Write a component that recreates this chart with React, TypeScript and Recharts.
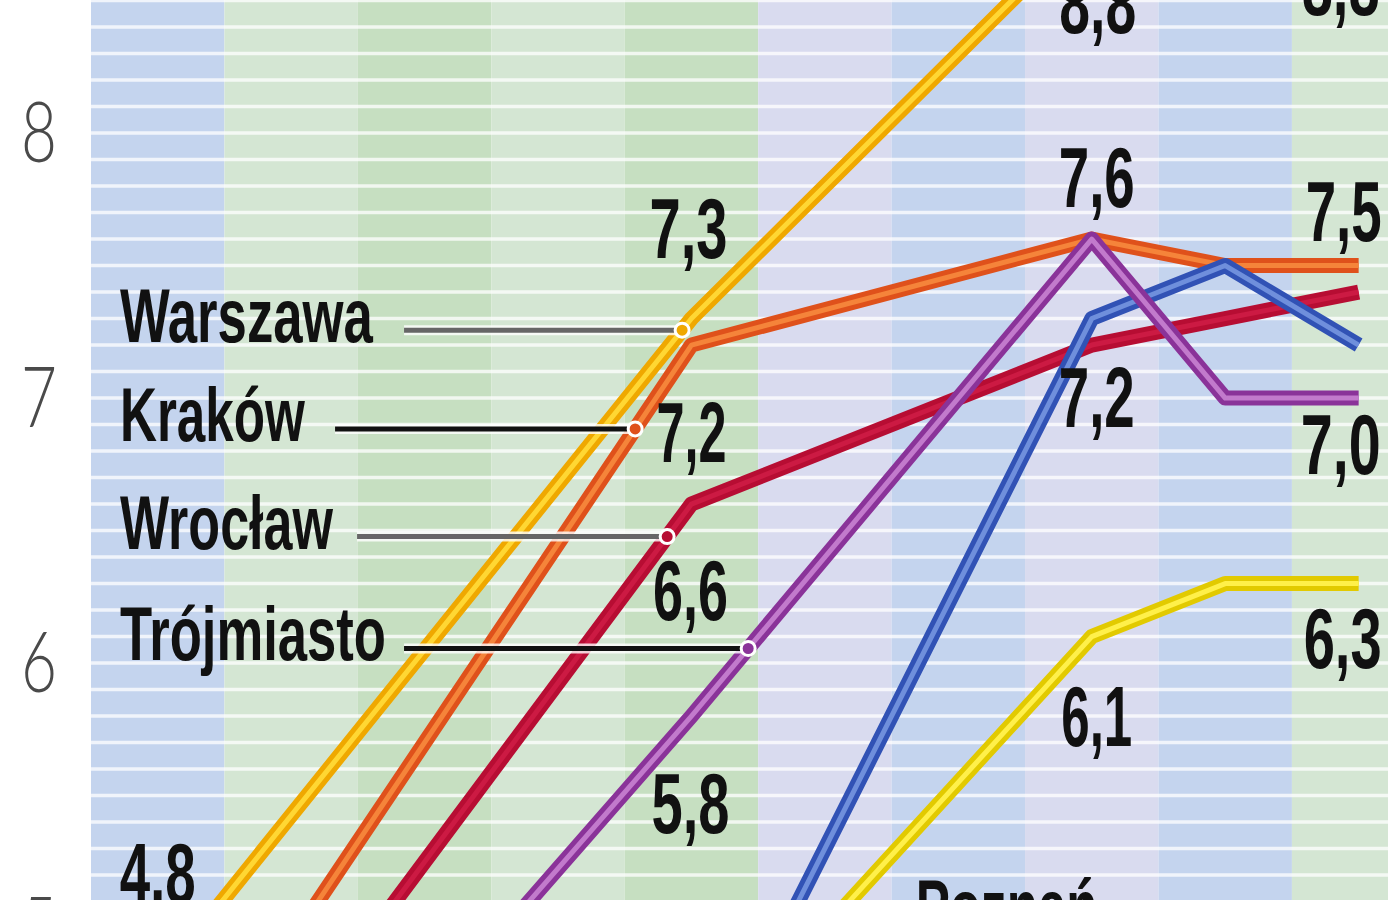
import React from 'react';
import {
  LineChart,
  Line,
  XAxis,
  YAxis,
  ReferenceArea,
  ReferenceLine,
  ReferenceDot,
} from 'recharts';

// One shaded band per period along the horizontal axis
const periods = [0, 1, 2, 3, 4, 5, 6, 7, 8, 9];

// Values per period; null where a line runs straight on to its next point
const warszawa = [4.8, null, null, null, 7.3, null, null, 8.8, null, 8.8];
const krakow = [4.2, null, null, null, 7.2, null, null, 7.6, 7.5, 7.5];
const wroclaw = [3.9, null, null, null, 6.6, null, null, 7.2, 7.3, 7.4];
const trojmiasto = [3.5, null, null, null, 5.8, null, null, 7.6, 7.0, 7.0];
const poznan = [null, null, null, null, 4.3, null, null, 7.3, 7.5, 7.2];
const lodz = [null, null, null, null, null, 5.0, null, 6.1, 6.3, 6.3];

const yTicks = [5, 6, 7, 8];

const Y_DOMAIN: [number, number] = [5.106, 8.502];
const X_DOMAIN: [number, number] = [-0.5, 9.22];

const bandColors = [
  '#c4d4ee',
  '#d4e6d3',
  '#c6dfc1',
  '#d4e6d3',
  '#c6dfc1',
  '#d9dbef',
  '#c4d4ee',
  '#d9dbef',
  '#c4d4ee',
  '#d4e6d3',
];

// Thin white rules every 0.1
const stripeValues = Array.from({ length: 34 }, (_, k) => +(5.2 + k * 0.1).toFixed(1));

const seriesValues: Record<string, (number | null)[]> = {
  warszawa,
  krakow,
  wroclaw,
  trojmiasto,
  poznan,
  lodz,
};

// Drawing order: later entries sit on top
const seriesStyles = [
  { key: 'warszawa', edge: '#efa800', core: '#ffd733' },
  { key: 'krakow', edge: '#df511b', core: '#f5843a' },
  { key: 'wroclaw', edge: '#b70d33', core: '#cc1a43' },
  { key: 'poznan', edge: '#3152b5', core: '#6f8fdc' },
  { key: 'lodz', edge: '#e2ca00', core: '#fff04a' },
  { key: 'trojmiasto', edge: '#8a3399', core: '#c27acc' },
];

const data = periods.map((period, k) => ({
  period,
  warszawa: warszawa[k],
  krakow: krakow[k],
  wroclaw: wroclaw[k],
  trojmiasto: trojmiasto[k],
  poznan: poznan[k],
  lodz: lodz[k],
}));

// Value labels: which series / period, and how far the text sits from the point
const valueLabels = [
  { series: 'warszawa', period: 0, dx: 0, dy: -78, w: 76 },
  { series: 'warszawa', period: 4, dx: -3, dy: -61, w: 78 },
  { series: 'krakow', period: 4, dx: 0, dy: 117, w: 70 },
  { series: 'wroclaw', period: 4, dx: -1, dy: 116, w: 75 },
  { series: 'trojmiasto', period: 4, dx: -1, dy: 117, w: 78 },
  { series: 'warszawa', period: 7, dx: 6, dy: 112, w: 77 },
  { series: 'krakow', period: 7, dx: 5, dy: -32, w: 76 },
  { series: 'wroclaw', period: 7, dx: 5, dy: 82, w: 76 },
  { series: 'lodz', period: 7, dx: 5, dy: 109, w: 71 },
  { series: 'warszawa', period: 9, dx: -18, dy: 94, w: 78 },
  { series: 'krakow', period: 9, dx: -15, dy: -25, w: 76 },
  { series: 'trojmiasto', period: 9, dx: -18, dy: 76, w: 80 },
  { series: 'lodz', period: 9, dx: -16, dy: 84, w: 78 },
];

// Named call-outs: marker position on the line and where the leader starts
const callouts = [
  { name: 'Warszawa', series: 'warszawa', at: 3.93, from: 1.846, lead: '#666666', w: 253 },
  { name: 'Kraków', series: 'krakow', at: 3.578, from: 1.329, lead: '#111111', w: 185 },
  { name: 'Wrocław', series: 'wroclaw', at: 3.818, from: 1.494, lead: '#666666', w: 213 },
  { name: 'Trójmiasto', series: 'trojmiasto', at: 4.425, from: 1.846, lead: '#111111', w: 266 },
];
const NAME_X = -0.283;

const freeLabels = [{ name: 'Poznań', x: 5.68, y: 4.98, w: 182 }];

const LABEL_FONT = "'Liberation Sans Narrow', 'Liberation Sans', Arial, sans-serif";

const fmt = (v: number) => v.toFixed(1).replace('.', ',');

// Position along the drawn polyline (straight segments between known points)
const valueAt = (arr: (number | null)[], x: number): number => {
  let prev = -1;
  for (let k = 0; k < arr.length; k++) {
    const v = arr[k];
    if (v == null) continue;
    if (k === x) return v;
    if (k > x && prev >= 0) {
      const pv = arr[prev] as number;
      const t = (x - prev) / (k - prev);
      return pv + t * (v - pv);
    }
    prev = k;
  }
  return arr[prev] as number;
};

const styleOf = (key: string) => seriesStyles.find((s) => s.key === key)!;

const YTick = (props: any) => {
  const { y, payload } = props;
  return (
    <text
      x={39}
      y={y + 29}
      textAnchor="middle"
      fontFamily="Lato, 'Open Sans', sans-serif"
      fontWeight={300}
      fontSize={84}
      fill="#4a4a4a"
      textLength={36}
      lengthAdjust="spacingAndGlyphs"
    >
      {payload.value}
    </text>
  );
};

export default function App() {
  return (
    <div
      style={{
        position: 'fixed',
        left: 0,
        top: 0,
        width: 1400,
        height: 900,
        background: '#ffffff',
        overflow: 'hidden',
      }}
    >
      <LineChart
        width={1400}
        height={900}
        data={data}
        margin={{ top: 0, right: 12, bottom: 0, left: 0 }}
      >
        <XAxis type="number" dataKey="period" domain={X_DOMAIN} allowDataOverflow hide />
        <YAxis
          type="number"
          domain={Y_DOMAIN}
          allowDataOverflow
          ticks={yTicks}
          interval={0}
          width={91}
          axisLine={false}
          tickLine={false}
          tick={(p: any) => <YTick {...p} />}
        />

        {periods.map((p) => (
          <ReferenceArea
            key={`band-${p}`}
            x1={p - 0.5}
            x2={p + 0.5}
            y1={Y_DOMAIN[0]}
            y2={Y_DOMAIN[1]}
            fill={bandColors[p]}
            fillOpacity={1}
            stroke="none"
            ifOverflow="hidden"
            zIndex={-100}
          />
        ))}
        {stripeValues.map((v) => (
          <ReferenceLine
            key={`stripe-${v}`}
            y={v}
            stroke="#ffffff"
            strokeWidth={3.5}
            strokeOpacity={0.75}
            ifOverflow="hidden"
            zIndex={-50}
          />
        ))}

        {seriesStyles.flatMap((s) => [
          <Line
            key={`${s.key}-edge`}
            type="linear"
            dataKey={s.key}
            stroke={s.edge}
            strokeWidth={15}
            strokeLinejoin="round"
            dot={false}
            activeDot={false}
            connectNulls
            isAnimationActive={false}
          />,
          <Line
            key={`${s.key}-core`}
            type="linear"
            dataKey={s.key}
            stroke={s.core}
            strokeWidth={5}
            strokeLinejoin="round"
            dot={false}
            activeDot={false}
            connectNulls
            isAnimationActive={false}
          />,
        ])}

        {callouts.map((c) => {
          const v = valueAt(seriesValues[c.series], c.at);
          return [
            <ReferenceLine
              key={`${c.name}-halo`}
              segment={[
                { x: c.from, y: v },
                { x: c.at, y: v },
              ]}
              stroke="#ffffff"
              strokeWidth={10}
              strokeOpacity={0.8}
              ifOverflow="visible"
              zIndex={700}
            />,
            <ReferenceLine
              key={`${c.name}-lead`}
              segment={[
                { x: c.from, y: v },
                { x: c.at, y: v },
              ]}
              stroke={c.lead}
              strokeWidth={5}
              ifOverflow="visible"
              zIndex={710}
            />,
            <ReferenceDot
              key={`${c.name}-dot`}
              x={c.at}
              y={v}
              r={7}
              fill={styleOf(c.series).edge}
              stroke="#ffffff"
              strokeWidth={3}
              ifOverflow="visible"
              zIndex={800}
            />,
            <ReferenceDot
              key={`${c.name}-name`}
              x={NAME_X}
              y={v}
              r={0}
              ifOverflow="visible"
              zIndex={900}
              shape={(p: any) => (
                <text
                  x={p.cx}
                  y={p.cy + 12}
                  fontFamily={LABEL_FONT}
                  fontWeight={700}
                  fontSize={76}
                  fill="#111111"
                  textLength={c.w}
                  lengthAdjust="spacingAndGlyphs"
                >
                  {c.name}
                </text>
              )}
            />,
          ];
        })}

        {freeLabels.map((f) => (
          <ReferenceDot
            key={`free-${f.name}`}
            x={f.x}
            y={f.y}
            r={0}
            ifOverflow="visible"
            zIndex={900}
            shape={(p: any) => (
              <text
                x={p.cx}
                y={p.cy}
                fontFamily={LABEL_FONT}
                fontWeight={700}
                fontSize={76}
                fill="#111111"
                textLength={f.w}
                lengthAdjust="spacingAndGlyphs"
              >
                {f.name}
              </text>
            )}
          />
        ))}

        {valueLabels.map((l) => {
          const v = seriesValues[l.series][l.period] as number;
          return (
            <ReferenceDot
              key={`val-${l.series}-${l.period}`}
              x={l.period}
              y={v}
              r={0}
              ifOverflow="visible"
              zIndex={900}
              shape={(p: any) => (
                <text
                  x={p.cx + l.dx}
                  y={p.cy + l.dy}
                  textAnchor="middle"
                  fontFamily={LABEL_FONT}
                  fontWeight={700}
                  fontSize={86}
                  fill="#111111"
                  textLength={l.w}
                  lengthAdjust="spacingAndGlyphs"
                >
                  {fmt(v)}
                </text>
              )}
            />
          );
        })}
      </LineChart>
    </div>
  );
}
